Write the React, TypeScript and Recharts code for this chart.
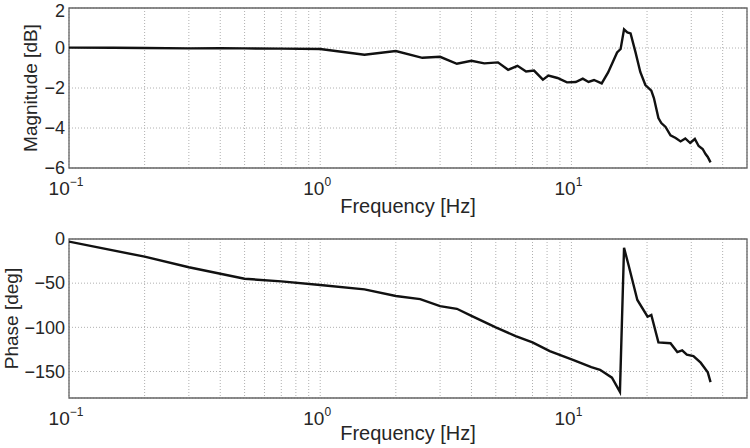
import React from "react";
import {
  LineChart,
  Line,
  XAxis,
  YAxis,
  CartesianGrid,
  ReferenceArea,
  Label,
} from "recharts";

// magnitude response
const magFreq = [
  0.1, 0.15, 0.2, 0.3, 0.4, 0.5, 0.7, 1.0, 1.5, 2.0, 2.55, 3.0, 3.5, 4.0,
  4.5, 5.1, 5.6, 6.1, 6.6, 7.1, 7.7, 8.1, 8.8, 9.6, 10.4, 11.1, 11.7, 12.3,
  13.2, 14.0, 15.2, 15.7, 16.2, 16.7, 17.2, 18.0, 18.8, 19.7, 20.8, 21.3,
  22.2, 22.8, 23.7, 24.8, 26.0, 27.2, 28.4, 29.7, 31.0, 32.1, 33.3, 34.2,
  34.9, 35.8,
];
const magDb = [
  0.02, 0.01, 0.0, -0.02, -0.01, -0.02, -0.03, -0.05, -0.34, -0.15, -0.49,
  -0.44, -0.79, -0.64, -0.77, -0.72, -1.09, -0.89, -1.17, -1.13, -1.58,
  -1.38, -1.5, -1.72, -1.7, -1.53, -1.7, -1.6, -1.77, -1.22, -0.22, -0.05,
  0.93, 0.78, 0.73, -0.22, -1.2, -1.85, -2.13, -2.5, -3.5, -3.75, -3.95,
  -4.37, -4.5, -4.67, -4.52, -4.75, -4.55, -4.9, -5.05, -5.3, -5.45, -5.72,
];

// phase response
const phaseFreq = [
  0.1, 0.2, 0.3, 0.5, 0.7, 1.0, 1.5, 2.0, 2.5, 3.0, 3.5, 4.0, 5.0, 6.0, 7.0,
  8.2, 10.2, 12.0, 13.0, 14.5, 15.6, 16.2, 16.9, 18.3, 20.1, 20.8, 22.2,
  24.8, 26.4, 27.6, 28.8, 30.6, 32.7, 34.9, 35.8,
];
const phaseDeg = [
  -3, -20, -32, -45, -48, -52, -57, -64.5, -68, -76, -79, -87, -100, -110,
  -117, -127, -137, -145, -148, -157, -173, -10, -30, -69, -88, -86, -117,
  -118, -128, -126, -131, -132.5, -140, -151, -162,
];

const gridFreq = [
  0.1, 0.2, 0.3, 0.4, 0.5, 0.6, 0.7, 0.8, 0.9, 1, 2, 3, 4, 5, 6, 7, 8, 9, 10,
  20, 30, 40, 50,
];
const decadeTicks = [0.1, 1, 10];
const decadeExp = ["-1", "0", "1"];
const magTicks = [-6, -4, -2, 0, 2];
const phaseTicks = [-150, -100, -50, 0];

const magData = magFreq.map((f, i) => ({ f, v: magDb[i] }));
const phaseData = phaseFreq.map((f, i) => ({ f, v: phaseDeg[i] }));

const font = "'Liberation Sans', Arial, sans-serif";
const textColor = "#262626";

const minus = (v: number) => String(v).replace("-", "\u2212");

const DecadeTick = (props: any) => {
  const { x, y, payload } = props;
  const idx = decadeTicks.findIndex((d) => Math.abs(d - payload.value) < 1e-9);
  if (idx < 0) return null;
  return (
    <text
      x={x - 3}
      y={y + 25}
      textAnchor="middle"
      fill={textColor}
      fontSize={19}
      fontFamily={font}
    >
      <tspan>10</tspan>
      <tspan dy={-9} fontSize={12}>
        {decadeExp[idx].replace("-", "\u2212")}
      </tspan>
    </text>
  );
};

// y tick label, kept inside the page at the very top
const ValueTick = (props: any) => {
  const { x, y, payload } = props;
  return (
    <text
      x={x}
      y={Math.max(y, 11)}
      dy="0.35em"
      textAnchor="end"
      fill={textColor}
      fontSize={18}
      fontFamily={font}
    >
      {minus(payload.value)}
    </text>
  );
};

type PanelProps = {
  data: { f: number; v: number }[];
  yDomain: [number, number];
  yTicks: number[];
  yLabel: string;
  yLabelOffset: number;
  marginTop: number;
  xAxisHeight: number;
  xLabelOffset: number;
};

const Panel: React.FC<PanelProps> = ({
  data,
  yDomain,
  yTicks,
  yLabel,
  yLabelOffset,
  marginTop,
  xAxisHeight,
  xLabelOffset,
}) => (
  <LineChart
    width={750}
    height={224}
    data={data}
    margin={{ top: marginTop, right: 3, left: 0, bottom: 0 }}
  >
    <CartesianGrid stroke="#b0b0b0" strokeDasharray="1 2" strokeWidth={1} />
    <XAxis
      dataKey="f"
      type="number"
      scale="log"
      domain={[0.1, 50]}
      ticks={gridFreq}
      interval={0}
      allowDataOverflow
      axisLine={false}
      tickLine={false}
      tickSize={0}
      tick={<DecadeTick />}
      height={xAxisHeight}
    >
      <Label
        value="Frequency [Hz]"
        position="insideBottom"
        offset={xLabelOffset}
        fill={textColor}
        fontSize={20}
        fontFamily={font}
      />
    </XAxis>
    <YAxis
      type="number"
      domain={yDomain}
      ticks={yTicks}
      interval={0}
      allowDataOverflow
      width={69}
      axisLine={false}
      tickLine={false}
      tickSize={0}
      tickMargin={4}
      tick={<ValueTick />}
    >
      <Label
        value={yLabel}
        angle={-90}
        position="insideLeft"
        offset={yLabelOffset}
        fill={textColor}
        fontSize={19}
        fontFamily={font}
        style={{ textAnchor: "middle" }}
      />
    </YAxis>
    <ReferenceArea
      x1={0.1}
      x2={50}
      y1={yDomain[0]}
      y2={yDomain[1]}
      fill="none"
      stroke="#666"
      strokeWidth={1.3}
    />
    <Line
      type="linear"
      dataKey="v"
      stroke="#111"
      strokeWidth={2.4}
      dot={false}
      isAnimationActive={false}
    />
  </LineChart>
);

export default function App() {
  return (
    <div
      style={{
        position: "absolute",
        left: 0,
        top: 0,
        width: 750,
        height: 448,
        background: "#fff",
      }}
    >
      <Panel
        data={magData}
        yDomain={[-6, 2]}
        yTicks={magTicks}
        yLabel="Magnitude [dB]"
        yLabelOffset={30}
        marginTop={8}
        xAxisHeight={56}
        xLabelOffset={11}
      />
      <Panel
        data={phaseData}
        yDomain={[-180, 0]}
        yTicks={phaseTicks}
        yLabel="Phase [deg]"
        yLabelOffset={11}
        marginTop={15}
        xAxisHeight={50}
        xLabelOffset={8}
      />
    </div>
  );
}
